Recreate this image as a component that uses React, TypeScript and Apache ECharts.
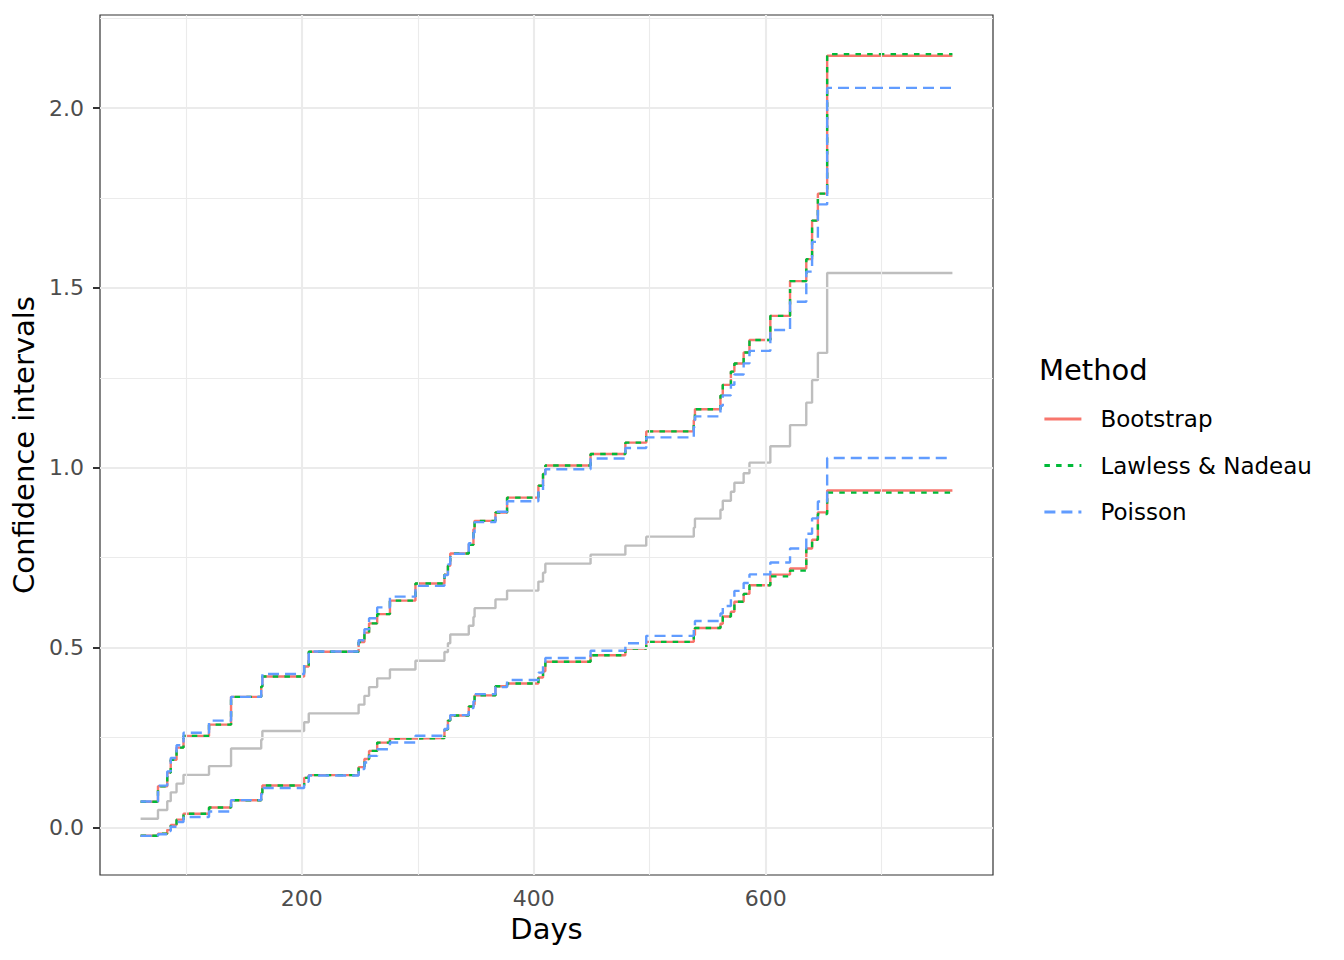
import React, { useEffect, useRef } from "react";
import * as echarts from "echarts";

// Event times (days) of the step functions; last entry is end of follow-up
const days = [61, 76, 84, 87, 92, 98, 120, 139, 165, 166, 202, 206, 249, 254, 258, 265, 276, 298, 323, 326, 328, 344, 348, 349, 367, 377, 404, 408, 410, 449, 479, 497, 538, 539, 561, 563, 570, 573, 581, 586, 604, 621, 635, 640, 645, 653, 761];

// Mean cumulative function (grey line)
const mcf = [0.0244, 0.0488, 0.0732, 0.0976, 0.1220, 0.1463, 0.1707, 0.2195, 0.2439, 0.2683, 0.2927, 0.3171, 0.3415, 0.3659, 0.3902, 0.4146, 0.4390, 0.4634, 0.4878, 0.5122, 0.5366, 0.5610, 0.5854, 0.6098, 0.6341, 0.6585, 0.6835, 0.7085, 0.7335, 0.7585, 0.7835, 0.8085, 0.8335, 0.8585, 0.8835, 0.9085, 0.9335, 0.9585, 0.9849, 1.0143, 1.0597, 1.1186, 1.1811, 1.2436, 1.3193, 1.5415, 1.5415];

// Bootstrap bounds
const bootUpper = [0.0716, 0.1147, 0.1529, 0.1884, 0.2221, 0.2545, 0.2859, 0.3631, 0.3917, 0.4198, 0.4475, 0.4887, 0.5153, 0.5416, 0.5675, 0.5932, 0.6308, 0.6782, 0.7029, 0.7273, 0.7618, 0.7857, 0.8289, 0.8524, 0.8756, 0.9169, 0.9500, 0.9826, 1.0063, 1.0382, 1.0698, 1.1011, 1.1320, 1.1626, 1.2006, 1.2305, 1.2674, 1.2897, 1.3204, 1.3550, 1.4224, 1.5190, 1.5800, 1.6871, 1.7620, 2.1453, 2.1453];
const bootLower = [-0.0228, -0.0171, -0.0065, 0.0068, 0.0218, 0.0381, 0.0556, 0.0759, 0.0961, 0.1168, 0.1379, 0.1455, 0.1677, 0.1902, 0.2129, 0.2360, 0.2472, 0.2486, 0.2727, 0.2971, 0.3114, 0.3363, 0.3419, 0.3672, 0.3926, 0.4001, 0.4171, 0.4345, 0.4608, 0.4788, 0.4972, 0.5160, 0.5351, 0.5545, 0.5665, 0.5866, 0.5997, 0.6274, 0.6493, 0.6735, 0.7030, 0.7200, 0.7755, 0.8000, 0.8760, 0.9370, 0.9370];

// Lawless & Nadeau bounds
const lnUpper = [0.0716, 0.1147, 0.1529, 0.1884, 0.2221, 0.2545, 0.2859, 0.3631, 0.3917, 0.4198, 0.4475, 0.4887, 0.5153, 0.5416, 0.5675, 0.5932, 0.6308, 0.6782, 0.7029, 0.7273, 0.7618, 0.7857, 0.8289, 0.8524, 0.8756, 0.9169, 0.9500, 0.9826, 1.0063, 1.0382, 1.0698, 1.1011, 1.1320, 1.1626, 1.2006, 1.2305, 1.2674, 1.2897, 1.3204, 1.3550, 1.4224, 1.5190, 1.5800, 1.6871, 1.7620, 2.1500, 2.1500];
const lnLower = [-0.0228, -0.0171, -0.0065, 0.0068, 0.0218, 0.0381, 0.0556, 0.0759, 0.0961, 0.1168, 0.1379, 0.1455, 0.1677, 0.1902, 0.2129, 0.2360, 0.2472, 0.2486, 0.2727, 0.2971, 0.3114, 0.3363, 0.3419, 0.3672, 0.3926, 0.4001, 0.4171, 0.4345, 0.4608, 0.4788, 0.4972, 0.5160, 0.5351, 0.5545, 0.5665, 0.5866, 0.5997, 0.6274, 0.6493, 0.6735, 0.6980, 0.7140, 0.7755, 0.8000, 0.8715, 0.9310, 0.9310];

// Poisson bounds
const poisUpper = [0.0722, 0.1164, 0.1559, 0.1932, 0.2288, 0.2634, 0.2972, 0.3630, 0.3950, 0.4268, 0.4583, 0.4894, 0.5203, 0.5510, 0.5815, 0.6118, 0.6419, 0.6718, 0.7016, 0.7313, 0.7608, 0.7902, 0.8196, 0.8488, 0.8779, 0.9069, 0.9367, 0.9664, 0.9960, 1.0256, 1.0550, 1.0844, 1.1137, 1.1430, 1.1722, 1.2013, 1.2304, 1.2594, 1.2901, 1.3249, 1.3829, 1.4617, 1.5454, 1.6279, 1.7322, 2.0560, 2.0560];
const poisLower = [-0.0234, -0.0188, -0.0096, 0.0020, 0.0151, 0.0293, 0.0443, 0.0760, 0.0928, 0.1097, 0.1271, 0.1447, 0.1626, 0.1807, 0.1990, 0.2175, 0.2362, 0.2550, 0.2740, 0.2931, 0.3124, 0.3317, 0.3512, 0.3707, 0.3903, 0.4101, 0.4304, 0.4507, 0.4710, 0.4915, 0.5120, 0.5327, 0.5533, 0.5741, 0.5949, 0.6158, 0.6367, 0.6577, 0.6796, 0.7036, 0.7366, 0.7754, 0.8167, 0.8592, 0.9064, 1.0270, 1.0270];

const methods = ["Bootstrap", "Lawless & Nadeau", "Poisson"];

// Axis ticks and grid breaks
const xMajor = [200, 400, 600];
const xMinor = [100, 300, 500, 700];
const yMajor = [0, 0.5, 1, 1.5, 2];
const yMinor = [0.25, 0.75, 1.25, 1.75, 2.25];

const FONT = "'DejaVu Sans', 'Noto Sans', sans-serif";
const LW = 2.4;

export default function App() {
  const ref = useRef<HTMLDivElement>(null);

  useEffect(() => {
    document.body.style.margin = "0";
    const chart = echarts.init(ref.current as HTMLDivElement, null, { renderer: "svg" });

    const pts = (vals: number[]) => days.map((d, i) => [d, vals[i]]);
    const gridLines = (axis: string, vals: number[], w: number) =>
      vals.map((v) => ({ [axis]: v, lineStyle: { color: "#EBEBEB", width: w, type: "solid" } }));

    const step = (name: string, vals: number[], color: string, type: any, z: number) => ({
      type: "line",
      name,
      step: "end",
      data: pts(vals),
      symbol: "none",
      showSymbol: false,
      silent: true,
      z,
      lineStyle: { color, width: LW, type, cap: "butt" },
      itemStyle: { color },
    });

    const COLORS = ["#F8766D", "#00BA38", "#619CFF"];
    const DASH = ["solid", [5.5, 6.2], [11, 6]];

    chart.setOption({
      animation: false,
      backgroundColor: "#ffffff",
      grid: {
        left: 100,
        top: 15,
        width: 893,
        height: 860,
        show: true,
        borderColor: "#333333",
        borderWidth: 1.2,
        backgroundColor: "transparent",
      },
      xAxis: {
        type: "value",
        min: 26,
        max: 796,
        axisLine: { show: false },
        axisTick: { show: true, customValues: xMajor, length: 7, lineStyle: { color: "#333333", width: 2 } },
        axisLabel: { customValues: xMajor, color: "#4D4D4D", fontSize: 22, fontFamily: FONT, margin: 12 },
        splitLine: { show: false },
        name: "Days",
        nameLocation: "middle",
        nameGap: 39,
        nameTextStyle: { fontSize: 29, color: "#000000", fontFamily: FONT },
      },
      yAxis: {
        type: "value",
        min: -0.1321,
        max: 2.2587,
        axisLine: { show: false },
        axisTick: { show: true, customValues: yMajor, length: 7, lineStyle: { color: "#333333", width: 2 } },
        axisLabel: {
          customValues: yMajor,
          color: "#4D4D4D",
          fontSize: 22,
          fontFamily: FONT,
          margin: 16,
          formatter: (v: number) => v.toFixed(1),
        },
        splitLine: { show: false },
        name: "Confidence intervals",
        nameLocation: "middle",
        nameGap: 57,
        nameTextStyle: { fontSize: 29, color: "#000000", fontFamily: FONT },
      },
      legend: {
        data: methods,
        orient: "vertical",
        left: 1038,
        top: 402,
        itemWidth: 37,
        itemHeight: 14,
        itemGap: 22.5,
        selectedMode: false,
        itemStyle: { opacity: 0 },
        lineStyle: { width: 2.8 },
        textStyle: { fontSize: 23, lineHeight: 24, color: "#000000", fontFamily: FONT, padding: [0, 0, 0, 14] },
      },
      graphic: [
        {
          type: "text",
          left: 1039,
          top: 355,
          style: { text: "Method", fontSize: 29, fontFamily: FONT, fill: "#000000" },
        },
      ],
      series: [
        {
          type: "line",
          name: "grid",
          data: [],
          z: 1,
          silent: true,
          markLine: {
            silent: true,
            symbol: ["none", "none"],
            label: { show: false },
            animation: false,
            data: [
              ...gridLines("xAxis", xMinor, 1.1),
              ...gridLines("yAxis", yMinor, 1.1),
              ...gridLines("xAxis", xMajor, 2.1),
              ...gridLines("yAxis", yMajor, 2.1),
            ],
          },
        },
        {
          type: "line",
          name: "MCF",
          step: "end",
          data: pts(mcf),
          symbol: "none",
          showSymbol: false,
          silent: true,
          z: 2,
          lineStyle: { color: "#BEBEBE", width: LW, type: "solid" },
          itemStyle: { color: "#BEBEBE" },
        },
        step(methods[0], bootUpper, COLORS[0], DASH[0], 3),
        step(methods[0], bootLower, COLORS[0], DASH[0], 3),
        step(methods[1], lnUpper, COLORS[1], DASH[1], 4),
        step(methods[1], lnLower, COLORS[1], DASH[1], 4),
        step(methods[2], poisUpper, COLORS[2], DASH[2], 5),
        step(methods[2], poisLower, COLORS[2], DASH[2], 5),
      ],
    });

    return () => chart.dispose();
  }, []);

  return (
    <div
      ref={ref}
      style={{ position: "absolute", left: 0, top: 0, width: 1344, height: 960, background: "#ffffff" }}
    />
  );
}
